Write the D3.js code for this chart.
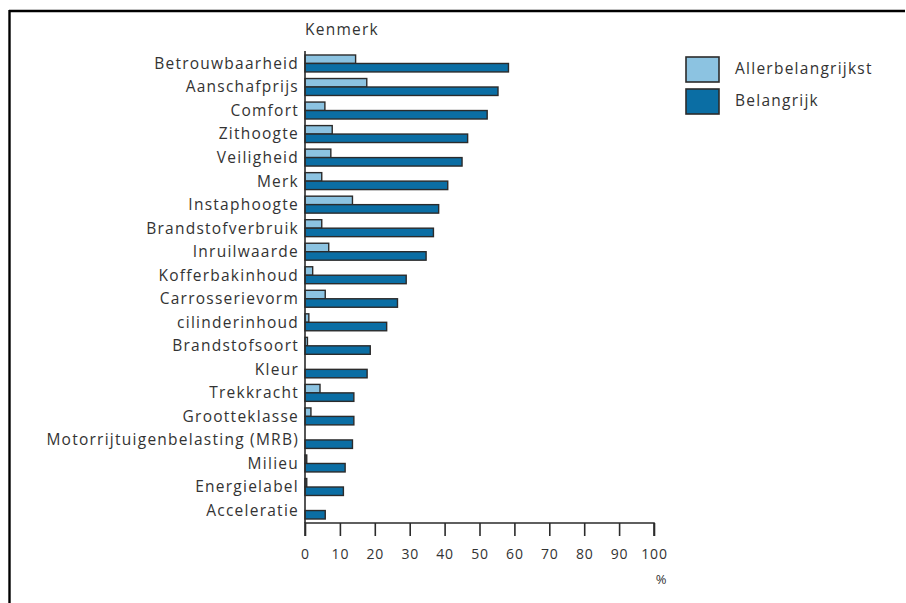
<!DOCTYPE html>
<html>
<head>
<meta charset="utf-8">
<script src="https://cdn.jsdelivr.net/npm/d3@7"></script>
<style>
  html, body { margin: 0; padding: 0; background: #fff; }
  svg { display: block; }
  text { font-family: "Open Sans", "DejaVu Sans", sans-serif; fill: #333; }
</style>
</head>
<body>
<svg id="chart" width="906" height="603"></svg>
<script>
// Kenmerken van een auto, gerangschikt naar belang
const categories = [
  "Betrouwbaarheid", "Aanschafprijs", "Comfort", "Zithoogte", "Veiligheid",
  "Merk", "Instaphoogte", "Brandstofverbruik", "Inruilwaarde", "Kofferbakinhoud",
  "Carrosserievorm", "cilinderinhoud", "Brandstofsoort", "Kleur", "Trekkracht",
  "Grootteklasse", "Motorrijtuigenbelasting (MRB)", "Milieu", "Energielabel", "Acceleratie"
];
const allerbelangrijkst = [14.5, 17.7, 5.7, 7.8, 7.4, 4.8, 13.6, 4.8, 6.8, 2.2,
                           5.8, 1.1, 0.7, 0, 4.3, 1.7, 0, 0.5, 0.5, 0];
const belangrijk = [58.3, 55.3, 52.2, 46.6, 45.0, 40.9, 38.3, 36.8, 34.7, 29.0,
                    26.5, 23.4, 18.7, 17.8, 14.0, 14.0, 13.6, 11.5, 11.0, 5.8];
const seriesNames = ["Allerbelangrijkst", "Belangrijk"];
const tickValues = [0, 10, 20, 30, 40, 50, 60, 70, 80, 90, 100];

const colors = ["#8cc3e1", "#0b6ea4"];
const stroke = "#2b2b2b";
const labelSize = 15.5;
const spacing = "1.25px";

const svg = d3.select("#chart");

// frame lines
svg.append("line").attr("x1", 9).attr("x2", 905).attr("y1", 11).attr("y2", 11)
  .attr("stroke", "#000").attr("stroke-width", 2.4);
svg.append("line").attr("x1", 9.5).attr("x2", 9.5).attr("y1", 10).attr("y2", 603)
  .attr("stroke", "#000").attr("stroke-width", 2.4);

const x = d3.scaleLinear().domain([0, 100]).range([305, 654]);
const y = d3.scaleBand().domain(categories).range([51, 523])
  .paddingInner(0.28).paddingOuter(0.17);
const sub = d3.scaleBand().domain(seriesNames).range([0, y.bandwidth()]);

const rows = categories.map((c, i) => ({ c, vals: [allerbelangrijkst[i], belangrijk[i]] }));

const g = svg.append("g");
rows.forEach(r => {
  r.vals.forEach((v, j) => {
    if (v <= 0) return;
    g.append("rect")
      .attr("x", x(0))
      .attr("y", y(r.c) + sub(seriesNames[j]))
      .attr("width", x(v) - x(0))
      .attr("height", sub.bandwidth())
      .attr("fill", colors[j])
      .attr("stroke", stroke)
      .attr("stroke-width", 1.4);
  });
});

// category labels
svg.append("g").selectAll("text").data(categories).join("text")
  .attr("x", 299)
  .attr("y", d => y(d) + y.bandwidth() / 2)
  .attr("dy", "0.35em")
  .attr("text-anchor", "end")
  .attr("font-size", labelSize)
  .style("letter-spacing", spacing)
  .text(d => d);

// vertical axis line
svg.append("line").attr("x1", x(0)).attr("x2", x(0)).attr("y1", 51).attr("y2", 523)
  .attr("stroke", stroke).attr("stroke-width", 1.6);

// horizontal axis
const xAxis = d3.axisBottom(x).tickValues(tickValues).tickSize(13).tickPadding(13)
  .tickFormat(d3.format("d"));
const ax = svg.append("g").attr("transform", "translate(0,523)").call(xAxis);
ax.select(".domain").attr("stroke", stroke).attr("stroke-width", 1.6)
  .attr("d", `M${x(0)},13V0H${x(100)}V13`);
ax.selectAll(".tick line").attr("stroke", stroke).attr("stroke-width", 1.6);
ax.selectAll(".tick text").attr("font-size", 14).attr("fill", "#333")
  .attr("font-family", "'Open Sans', sans-serif")
  .style("letter-spacing", "0.8px");

svg.append("text").attr("x", 661).attr("y", 584).attr("text-anchor", "middle")
  .attr("font-size", 13).text("%");

svg.append("text").attr("x", 305).attr("y", 35).attr("font-size", labelSize)
  .style("letter-spacing", spacing).text("Kenmerk");

// legend
const legend = svg.append("g");
seriesNames.forEach((s, j) => {
  legend.append("rect").attr("x", 686).attr("y", 57 + j * 32).attr("width", 33).attr("height", 25)
    .attr("fill", colors[j]).attr("stroke", stroke).attr("stroke-width", 1.6);
  legend.append("text").attr("x", 735).attr("y", 69 + j * 32).attr("dy", "0.35em")
    .attr("font-size", labelSize).style("letter-spacing", spacing).text(s);
});
</script>
</body>
</html>
